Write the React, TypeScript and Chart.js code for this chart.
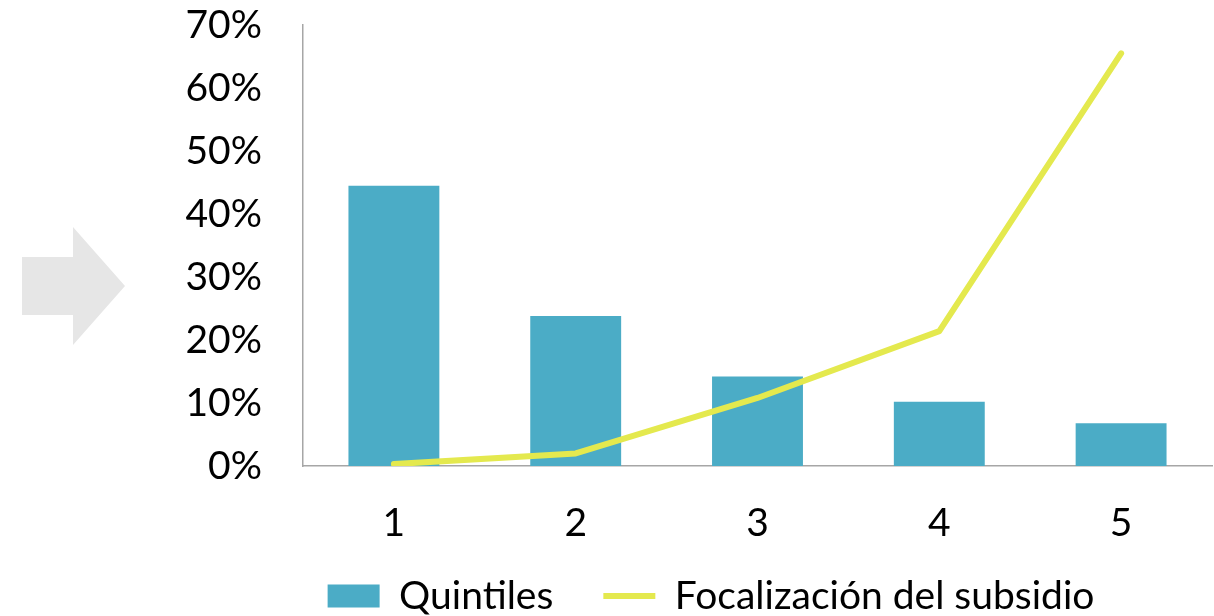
import React, { useEffect, useRef } from "react";
import { Chart, registerables } from "chart.js";

Chart.register(...registerables);

const categories = ["1", "2", "3", "4", "5"];
const quintiles = [44.5, 23.8, 14.2, 10.2, 6.8];
const focalizacion = [0.3, 2.0, 10.8, 21.4, 65.5];
const seriesNames = ["Quintiles", "Focalización del subsidio"];
const yTicks = [0, 10, 20, 30, 40, 50, 60, 70];

const FONT = "Lato";
const FS = 39;
const BAR = "#4BACC6";
const LINE = "#E4E94E";
const AXIS = "#A6A6A6";
const LEGEND_CENTER_X = 711;
const LEGEND_CENTER_Y = 596;

const legendPlace = {
  id: "legendPlace",
  afterLayout(chart: any) {
    const lg = chart.legend;
    if (!lg) return;
    const P = lg.options.labels.padding;
    const dx = LEGEND_CENTER_X - (lg.left + lg.right) / 2;
    const curCenterY = lg.top + P + FS / 2;
    const dy = LEGEND_CENTER_Y - curCenterY;
    lg.left += dx;
    lg.right += dx;
    lg.top += dy;
    lg.bottom += dy;
  },
};

export default function App() {
  const ref = useRef<HTMLCanvasElement | null>(null);

  useEffect(() => {
    if (!ref.current) return;
    const chart = new Chart(ref.current, {
      type: "bar",
      data: {
        labels: categories,
        datasets: [
          {
            type: "bar",
            label: seriesNames[0],
            data: quintiles,
            backgroundColor: BAR,
            borderWidth: 0,
            barPercentage: 0.5,
            categoryPercentage: 1,
            order: 2,
            pointStyle: "rect",
          } as any,
          {
            type: "line",
            label: seriesNames[1],
            data: focalizacion,
            borderColor: LINE,
            backgroundColor: LINE,
            borderWidth: 6,
            pointRadius: 0,
            tension: 0,
            borderCapStyle: "round",
            borderJoinStyle: "round",
            order: 1,
            pointStyle: "line",
          } as any,
        ],
      },
      plugins: [legendPlace],
      options: {
        responsive: false,
        animation: false,
        devicePixelRatio: 1,
        events: [],
        layout: { padding: { top: 25, left: 0, right: 2, bottom: -31 } },
        plugins: {
          tooltip: { enabled: false },
          legend: {
            position: "bottom",
            labels: {
              font: { family: FONT, size: FS },
              color: "#000",
              usePointStyle: true,
              pointStyleWidth: 52,
              boxHeight: 23,
              padding: 50,
              sort: (a: any, b: any) => a.datasetIndex - b.datasetIndex,
            },
          },
        },
        scales: {
          x: {
            grid: { display: false, drawTicks: false },
            border: { display: true, color: AXIS, width: 1.5 },
            ticks: {
              font: { family: FONT, size: FS },
              color: "#000",
              padding: 34,
            },
            afterFit: (s: any) => {
              s.height = 82;
            },
          },
          y: {
            min: 0,
            max: 70,
            grid: { display: false, drawTicks: false },
            border: { display: true, color: AXIS, width: 1.5 },
            afterBuildTicks: (s: any) => {
              s.ticks = yTicks.map((v) => ({ value: v }));
            },
            ticks: {
              font: { family: FONT, size: FS },
              color: "#000",
              padding: 41,
              callback: (v: any) => v + "%",
            },
            afterFit: (s: any) => {
              s.width = 303;
              s.paddingTop = 0;
              s.paddingBottom = 0;
            },
          },
        },
      },
    });
    return () => chart.destroy();
  }, []);

  return (
    <div style={{ position: "fixed", left: 0, top: 0, width: 1214, height: 616, background: "#fff" }}>
      <div
        style={{
          position: "absolute",
          left: 22,
          top: 227,
          width: 103,
          height: 118,
          background: "#E6E6E6",
          clipPath: "polygon(0px 30px, 51px 30px, 51px 0px, 103px 59px, 51px 118px, 51px 88px, 0px 88px)",
        }}
      />
      <canvas
        ref={ref}
        width={1214}
        height={616}
        style={{ position: "absolute", left: 0, top: 0, width: 1214, height: 616 }}
      />
    </div>
  );
}
